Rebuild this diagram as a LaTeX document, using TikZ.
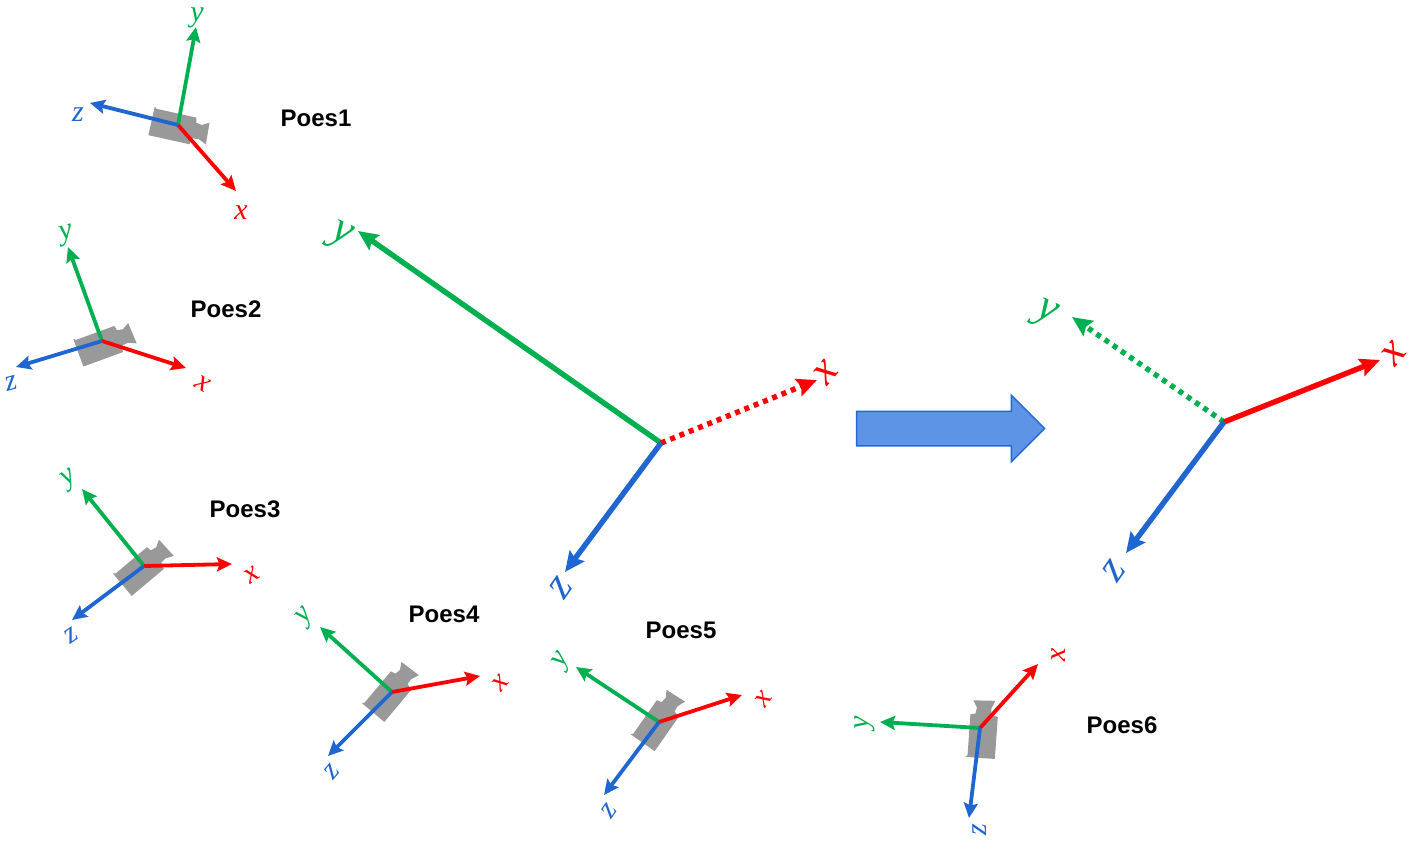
\documentclass[tikz,border=0pt]{standalone}
\usepackage{fontspec}
\setmainfont{Liberation Sans}
\newfontfamily\axisfont{Liberation Serif}
\usetikzlibrary{arrows.meta,shapes.arrows}
\definecolor{axisgreen}{HTML}{00B050}
\definecolor{axisred}{HTML}{FF0000}
\definecolor{axisblue}{HTML}{1F66D0}
\definecolor{camgray}{HTML}{999999}
\definecolor{shiftfill}{HTML}{5E94E6}
\definecolor{shiftdraw}{HTML}{2468D8}
\tikzset{
  axisthin/.style={line width=3.8pt,-{Stealth[length=15pt,width=14pt,inset=2.5pt]}},
  axisbig/.style={line width=5.4pt,-{Stealth[length=20pt,width=18pt,inset=3pt]}},
  dotline/.style={dash pattern=on 5pt off 5pt},
  axislabel/.style={font=\axisfont\itshape\fontsize{30}{30}\selectfont,inner sep=0pt},
  biglabel/.style={font=\axisfont\itshape\fontsize{44}{44}\selectfont,inner sep=0pt},
  poselabel/.style={font=\bfseries\fontsize{24}{24}\selectfont,inner sep=0pt,text=black},
  pics/camera/.style={code={
    \fill[camgray] (-23,-15) -- (-21,-13) -- (20,-13) -- (21,-8) -- (27,-7) -- (34,-11) -- (35,11)
      -- (27,7.5) -- (21,8) -- (19,14.5) -- (-23,14.5) -- cycle;
  }}
}
\begin{document}
\begin{tikzpicture}[x=1pt,y=-1pt]
  \useasboundingbox (0,0) rectangle (1415,848);
  % poses
  \pic at (174,126) [rotate=-12.5] {camera};
  \coordinate (o1) at (178,125);
  \coordinate (x1) at (236,191);
  \coordinate (y1) at (196,27);
  \coordinate (z1) at (90,103);
  \draw[axisthin,axisgreen] (o1) -- (y1);
  \draw[axisthin,axisred] (o1) -- (x1);
  \draw[axisthin,axisblue] (o1) -- (z1);
  \node[axislabel,text=axisred] (lx1) at (241,213) {x};
  \node[axislabel,text=axisgreen] (ly1) at (197,18) {y};
  \node[axislabel,text=axisblue] (lz1) at (78,115) {z};
  \node[poselabel] (pose1) at (316,118) {Poes1};

  \pic at (100,345) [rotate=20] {camera};
  \coordinate (o2) at (102,341);
  \coordinate (x2) at (186,368);
  \coordinate (y2) at (68,247);
  \coordinate (z2) at (16,367);
  \draw[axisthin,axisgreen] (o2) -- (y2);
  \draw[axisthin,axisred] (o2) -- (x2);
  \draw[axisthin,axisblue] (o2) -- (z2);
  \node[axislabel,text=axisred,rotate=-30] (lx2) at (203,384) {x};
  \node[axislabel,text=axisgreen,rotate=15] (ly2) at (67,235) {y};
  \node[axislabel,text=axisblue,rotate=15] (lz2) at (11,383) {z};
  \node[poselabel] (pose2) at (226,309) {Poes2};

  \pic at (140,570) [rotate=40] {camera};
  \coordinate (o3) at (144,566);
  \coordinate (x3) at (232,564);
  \coordinate (y3) at (82,489);
  \coordinate (z3) at (72,620);
  \draw[axisthin,axisgreen] (o3) -- (y3);
  \draw[axisthin,axisred] (o3) -- (x3);
  \draw[axisthin,axisblue] (o3) -- (z3);
  \node[axislabel,text=axisred,rotate=35] (lx3) at (252,575) {x};
  \node[axislabel,text=axisgreen,rotate=35] (ly3) at (70,480) {y};
  \node[axislabel,text=axisblue,rotate=35] (lz3) at (71,636) {z};
  \node[poselabel] (pose3) at (245,509) {Poes3};

  \pic at (388,695) [rotate=50] {camera};
  \coordinate (o4) at (392,692);
  \coordinate (x4) at (480,676);
  \coordinate (y4) at (320,627);
  \coordinate (z4) at (328,756);
  \draw[axisthin,axisgreen] (o4) -- (y4);
  \draw[axisthin,axisred] (o4) -- (x4);
  \draw[axisthin,axisblue] (o4) -- (z4);
  \node[axislabel,text=axisred,rotate=50] (lx4) at (500,683) {x};
  \node[axislabel,text=axisgreen,rotate=50] (ly4) at (306,617) {y};
  \node[axislabel,text=axisblue,rotate=50] (lz4) at (332,772) {z};
  \node[poselabel] (pose4) at (444,614) {Poes4};

  \pic at (656,724) [rotate=55] {camera};
  \coordinate (o5) at (659,722);
  \coordinate (x5) at (742,695);
  \coordinate (y5) at (576,667);
  \coordinate (z5) at (604,795);
  \draw[axisthin,axisgreen] (o5) -- (y5);
  \draw[axisthin,axisred] (o5) -- (x5);
  \draw[axisthin,axisblue] (o5) -- (z5);
  \node[axislabel,text=axisred,rotate=55] (lx5) at (764,699) {x};
  \node[axislabel,text=axisgreen,rotate=60] (ly5) at (563,661) {y};
  \node[axislabel,text=axisblue,rotate=55] (lz5) at (609,811) {z};
  \node[poselabel] (pose5) at (681,630) {Poes5};

  \pic at (982,735) [rotate=86] {camera};
  \coordinate (o6) at (980,728);
  \coordinate (x6) at (1038,664);
  \coordinate (y6) at (880,722);
  \coordinate (z6) at (969,818);
  \draw[axisthin,axisgreen] (o6) -- (y6);
  \draw[axisthin,axisred] (o6) -- (x6);
  \draw[axisthin,axisblue] (o6) -- (z6);
  \node[axislabel,text=axisred,rotate=90] (lx6) at (1059,655) {x};
  \node[axislabel,text=axisgreen,rotate=90] (ly6) at (865,723) {y};
  \node[axislabel,text=axisblue,rotate=90] (lz6) at (980,830) {z};
  \node[poselabel] (pose6) at (1122,725) {Poes6};

  % before
  \coordinate (oa) at (661,443);
  \coordinate (xa) at (817,380);
  \coordinate (ya) at (358,231);
  \coordinate (za) at (565,572);
  \draw[axisbig,axisgreen] (oa) -- (ya);
  \draw[axisbig,axisred,dotline] (oa) -- (xa);
  \draw[axisbig,axisblue] (oa) -- (za);
  \node[biglabel,text=axisred,rotate=50] (lxa) at (826,373) {x};
  \node[biglabel,text=axisgreen,rotate=-25] (lya) at (341,237) {y};
  \node[biglabel,text=axisblue,rotate=55] (lza) at (561,588) {z};

  % block arrow
  \node[draw=shiftdraw,fill=shiftfill,line width=1.5pt,single arrow,minimum height=188pt,
    single arrow head extend=16pt,single arrow tip angle=90,inner ysep=16.5pt,inner xsep=0pt,
    shape border rotate=0] (shift) at (942,428.5) {};

  % after
  \coordinate (ob) at (1224,422);
  \coordinate (xb) at (1380,360);
  \coordinate (yb) at (1072,317);
  \coordinate (zb) at (1126,553);
  \draw[axisbig,axisgreen,dotline] (ob) -- (yb);
  \draw[axisbig,axisred] (ob) -- (xb);
  \draw[axisbig,axisblue] (ob) -- (zb);
  \node[biglabel,text=axisred,rotate=50] (lxb) at (1394,354) {x};
  \node[biglabel,text=axisgreen,rotate=-25] (lyb) at (1046,315) {y};
  \node[biglabel,text=axisblue,rotate=55] (lzb) at (1114,571) {z};
\end{tikzpicture}
\end{document}
